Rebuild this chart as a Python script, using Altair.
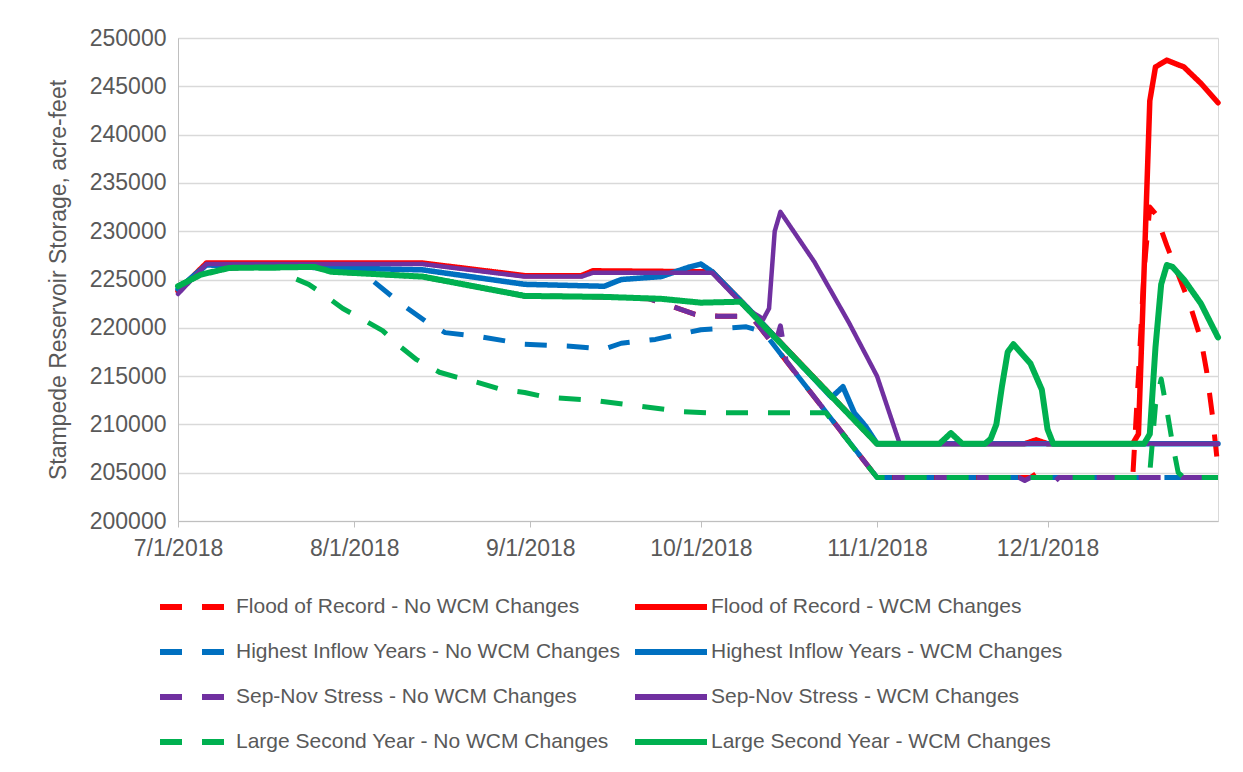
import altair as alt
import pandas as pd

SERIES = [
    "Flood of Record - No WCM Changes",
    "Flood of Record - WCM Changes",
    "Highest Inflow Years - No WCM Changes",
    "Highest Inflow Years - WCM Changes",
    "Sep-Nov Stress - No WCM Changes",
    "Sep-Nov Stress - WCM Changes",
    "Large Second Year - No WCM Changes",
    "Large Second Year - WCM Changes",
]
COLORS = ["#FF0000", "#FF0000", "#0070C0", "#0070C0", "#7030A0", "#7030A0", "#00B050", "#00B050"]
DASHES = [[22, 20], [1, 0], [22, 20], [1, 0], [22, 20], [1, 0], [22, 20], [1, 0]]
WIDTHS = [5, 5.5, 5, 5.5, 5, 4.5, 5, 6]

# Flood of Record - No WCM Changes
for_no_dates = ["07-01", "07-05", "07-10", "07-25", "07-28", "08-13", "08-31", "09-14", "09-22", "09-30",
                "10-04", "10-08", "10-10", "11-01", "11-28", "11-29", "11-30", "12-16", "12-17", "12-18",
                "12-19", "12-20", "12-22", "12-24", "12-26", "12-28", "12-29", "12-30", "12-31"]
for_no_vals = [224300, 225500, 226200, 226300, 225800, 225300, 223300, 223200, 223000, 221400,
               221200, 221200, 221100, 204500, 204500, 204900, 204500, 204500, 215000, 226000,
               232500, 231800, 228500, 225500, 222500, 218800, 215500, 211000, 205500]

# Flood of Record - WCM Changes
for_wcm_dates = ["07-01", "07-06", "08-13", "08-31", "09-10", "09-12", "10-03", "10-08", "11-01", "11-27",
                 "11-29", "12-01", "12-16", "12-17", "12-18", "12-19", "12-20", "12-22", "12-25", "12-28",
                 "12-31"]
for_wcm_vals = [223800, 226700, 226700, 225400, 225400, 225900, 225800, 222800, 208000, 208000,
                208400, 208000, 208000, 209000, 226000, 243500, 247000, 247700, 247000, 245300,
                243300]

# Highest Inflow Years - No WCM Changes
hiy_no_dates = ["07-01", "07-06", "08-01", "08-04", "08-09", "08-14", "08-17", "08-23", "08-31", "09-08",
                "09-14", "09-17", "09-23", "10-01", "10-09", "10-12", "11-01", "12-31"]
hiy_no_vals = [224000, 226500, 226300, 225000, 222600, 220500, 219500, 219100, 218300, 218100,
               217800, 218400, 218800, 219800, 220100, 219600, 204500, 204500]

# Highest Inflow Years - WCM Changes
hiy_wcm_dates = ["07-01", "07-06", "08-13", "08-31", "09-14", "09-17", "09-24", "09-29", "10-01", "10-03",
                 "10-10", "10-24", "10-26", "10-28", "10-30", "11-01", "12-31"]
hiy_wcm_vals = [224000, 226500, 226000, 224500, 224300, 225000, 225300, 226300, 226600, 225800,
                221600, 212800, 213900, 211200, 209800, 208000, 208000]

# Sep-Nov Stress - No WCM Changes
sns_no_dates = ["07-01", "07-05", "07-10", "07-25", "07-28", "08-13", "08-31", "09-14", "09-22", "09-30",
                "10-04", "10-08", "10-10", "10-14", "10-15", "10-16", "11-01", "11-26", "11-27", "11-28",
                "12-01", "12-02", "12-03", "12-31"]
sns_no_vals = [224300, 225500, 226200, 226300, 225800, 225300, 223300, 223200, 223000, 221400,
               221200, 221200, 221100, 218100, 220200, 216600, 204500, 204500, 204200, 204500,
               204500, 203900, 204500, 204500]

# Sep-Nov Stress - WCM Changes
sns_wcm_dates = ["07-01", "07-06", "08-13", "08-31", "09-10", "09-12", "10-03", "10-09", "10-12", "10-13",
                 "10-14", "10-15", "10-21", "10-27", "11-01", "11-05", "12-31"]
sns_wcm_vals = [223500, 226600, 226600, 225300, 225300, 225700, 225700, 222000, 220900, 222000,
                230000, 232000, 226800, 220600, 215000, 208000, 208000]

# Large Second Year - No WCM Changes
lsy_no_dates = ["07-01", "07-05", "07-10", "07-19", "07-20", "07-24", "07-27", "07-30", "08-03", "08-06",
                "08-09", "08-12", "08-16", "08-19", "08-23", "08-27", "08-31", "09-04", "09-12", "09-20",
                "09-28", "10-02", "10-23", "11-01", "12-18", "12-19", "12-20", "12-21", "12-22", "12-23",
                "12-24", "12-25", "12-31"]
lsy_no_vals = [224300, 225500, 226200, 226200, 225500, 224500, 223300, 222000, 220700, 219700,
               218100, 216700, 215400, 214900, 214300, 213600, 213300, 212800, 212500, 211900,
               211300, 211200, 211200, 204500, 204500, 205000, 212000, 214700, 211500, 208000,
               205000, 204500, 204500]

# Large Second Year - WCM Changes
lsy_wcm_dates = ["07-01", "07-05", "07-10", "07-25", "07-28", "08-13", "08-31", "09-14", "09-24", "10-01",
                 "10-08", "11-01", "11-12", "11-14", "11-16", "11-20", "11-21", "11-22", "11-23", "11-24",
                 "11-25", "11-28", "11-30", "12-01", "12-02", "12-18", "12-19", "12-20", "12-21", "12-22",
                 "12-23", "12-25", "12-28", "12-31"]
lsy_wcm_vals = [224300, 225500, 226200, 226300, 225800, 225300, 223300, 223200, 223000, 222600,
                222700, 208000, 208000, 209100, 208000, 208000, 208500, 210000, 214000, 217500,
                218300, 216300, 213600, 209500, 208000, 208000, 209000, 218000, 224500, 226500,
                226300, 225000, 222500, 219000]

Y_TICKS = list(range(200000, 250001, 5000))
X_TICK_MONTHS = [7, 8, 9, 10, 11, 12]

ALL_DATES = [for_no_dates, for_wcm_dates, hiy_no_dates, hiy_wcm_dates,
             sns_no_dates, sns_wcm_dates, lsy_no_dates, lsy_wcm_dates]
ALL_VALS = [for_no_vals, for_wcm_vals, hiy_no_vals, hiy_wcm_vals,
            sns_no_vals, sns_wcm_vals, lsy_no_vals, lsy_wcm_vals]

rows = []
for name, ds, vs in zip(SERIES, ALL_DATES, ALL_VALS):
    for d, v in zip(ds, vs):
        rows.append({"series": name, "date": "2018-" + d, "value": v})
df = pd.DataFrame(rows)

# legend fills column by column: No-WCM entries in the left column, WCM entries in the right one
LEG_ORDER = [0, 2, 4, 6, 1, 3, 5, 7]
LEG_DOMAIN = [SERIES[i] for i in LEG_ORDER]
LEG_COLORS = [COLORS[i] for i in LEG_ORDER]
LEG_DASHES = [DASHES[i] for i in LEG_ORDER]

FONT = "Liberation Sans"
TXT = "#595959"

legend_kw = dict(
    title=None, orient="none", legendX=-21, legendY=557, columns=2,
    symbolType="M-1,0H7", symbolSize=324, symbolStrokeWidth=6,
    labelOffset=55, columnPadding=2, rowPadding=21, labelLimit=600,
    labelFont=FONT, labelFontSize=21, labelColor=TXT, padding=0,
)

x_enc = alt.X(
    "date:T",
    scale=alt.Scale(type="utc", domain=[alt.DateTime(year=2018, month=7, date=1, utc=True),
                                        alt.DateTime(year=2018, month=12, date=31, utc=True)]),
    axis=alt.Axis(values=[alt.DateTime(year=2018, month=m, date=1, utc=True) for m in X_TICK_MONTHS],
                  format="%-m/%-d/%Y", grid=False, ticks=True, tickSize=6, labelPadding=10,
                  domainColor="#bfbfbf", tickColor="#bfbfbf", labelFlush=False),
    title=None,
)
y_enc = alt.Y(
    "value:Q",
    scale=alt.Scale(domain=[200000, 250000], nice=False, zero=False),
    axis=alt.Axis(values=Y_TICKS, format="d", grid=True, ticks=False, labelPadding=12,
                  title="Stampede Reservoir Storage, acre-feet", titlePadding=19,
                  domainColor="#bfbfbf"),
)
color_enc = alt.Color("series:N", scale=alt.Scale(domain=LEG_DOMAIN, range=LEG_COLORS),
                      legend=alt.Legend(**legend_kw))
dash_enc = alt.StrokeDash("series:N", scale=alt.Scale(domain=LEG_DOMAIN, range=LEG_DASHES),
                          legend=alt.Legend(**legend_kw))

layers = []
for i, name in enumerate(SERIES):
    solid = DASHES[i] == [1, 0]
    layers.append(
        alt.Chart(df)
        .transform_filter(alt.datum.series == name)
        .mark_line(strokeWidth=WIDTHS[i], strokeJoin="round", strokeCap="round" if solid else "butt")
        .encode(x=x_enc, y=y_enc, color=color_enc, strokeDash=dash_enc)
    )

chart = (
    alt.layer(*layers)
    .properties(width=1040, height=483, autosize=alt.AutoSizeParams(type="none"),
                padding={"left": 170, "top": 30, "right": 17, "bottom": 242})
    .configure_view(stroke="#d9d9d9", strokeWidth=1)
    .configure_axis(labelFont=FONT, labelFontSize=23, labelColor=TXT, titleFont=FONT,
                    titleFontSize=23, titleColor=TXT, titleFontWeight="normal", gridColor="#d9d9d9",
                    gridWidth=1.5)
)

chart.save("out.html", embed_options={"renderer": "svg", "actions": False})
